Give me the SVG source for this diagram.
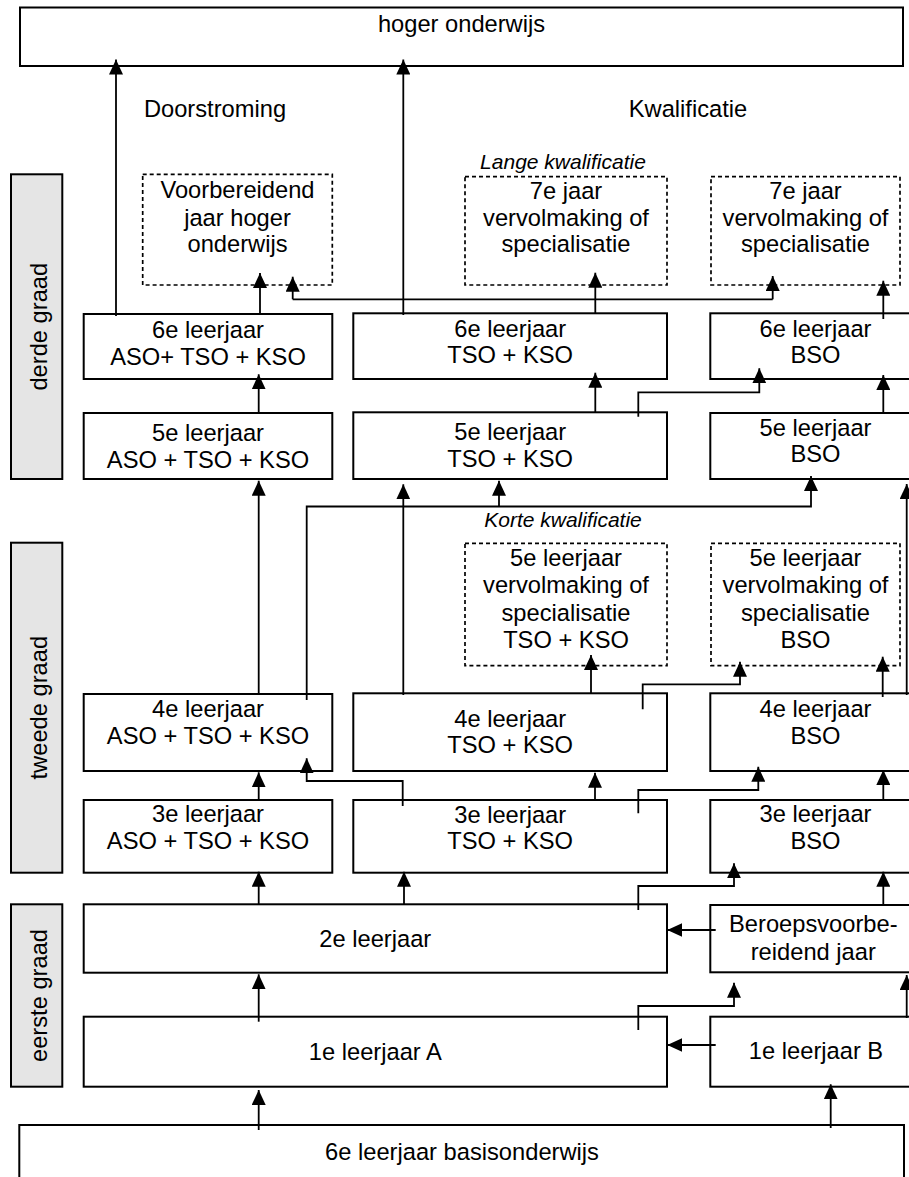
<svg xmlns="http://www.w3.org/2000/svg" width="909" height="1177" viewBox="0 0 909 1177">
<style>
text{font-family:"Liberation Sans",Arial,sans-serif;font-size:23.7px;fill:#000;text-anchor:middle}
.it{font-style:italic;font-size:21px}
.box{fill:#fff;stroke:#000;stroke-width:2}
.dash{fill:#fff;stroke:#000;stroke-width:1.7;stroke-dasharray:4 3}
.bar{fill:#e5e5e5;stroke:#000;stroke-width:2}
.c{fill:none;stroke:#000;stroke-width:1.8}
.a{marker-end:url(#ah)}
</style>
<defs>
<marker id="ah" markerUnits="userSpaceOnUse" viewBox="0 0 15 14" refX="15" refY="7" markerWidth="15" markerHeight="14" orient="auto">
<path d="M0,0 L15,7 L0,14 Z" fill="#000"/>
</marker>
</defs>
<rect width="909" height="1177" fill="#fff"/>

<g id="bars">
<g id="bar-derde"><rect class="bar" x="11" y="174.3" width="51.3" height="304.7"/><text transform="translate(46.5,326.7) rotate(-90)">derde graad</text></g>
<g id="bar-tweede"><rect class="bar" x="11" y="542.7" width="51.3" height="330"/><text transform="translate(46.5,707.7) rotate(-90)">tweede graad</text></g>
<g id="bar-eerste"><rect class="bar" x="11" y="904.3" width="51.3" height="182.4"/><text transform="translate(46.5,995.5) rotate(-90)">eerste graad</text></g>
</g>

<g id="labels">
<text x="215" y="117">Doorstroming</text>
<text x="688" y="116.7">Kwalificatie</text>
<text class="it" x="563" y="169.3">Lange kwalificatie</text>
<text class="it" x="563" y="526.7">Korte kwalificatie</text>
</g>

<g id="n-hoger"><rect class="box" x="20" y="7.5" width="883" height="58.5"/><text x="461.5" y="31.7">hoger onderwijs</text></g>

<g id="n-voorb"><rect class="dash" x="142.7" y="174.3" width="189.6" height="110.7"/><text x="237.5" y="198">Voorbereidend</text><text x="237.5" y="225.5">jaar hoger</text><text x="237.5" y="252">onderwijs</text></g>
<g id="n-7tso"><rect class="dash" x="465" y="176.7" width="202" height="108.3"/><text x="566" y="198.5">7e jaar</text><text x="566" y="225.5">vervolmaking of</text><text x="566" y="252">specialisatie</text></g>
<g id="n-7bso"><rect class="dash" x="711" y="176.7" width="189" height="108.3"/><text x="805.5" y="198.5">7e jaar</text><text x="805.5" y="225.5">vervolmaking of</text><text x="805.5" y="252">specialisatie</text></g>

<g id="n-6aso"><rect class="box" x="83.7" y="314" width="248.6" height="65"/><text x="208" y="337.7">6e leerjaar</text><text x="208" y="365">ASO+ TSO + KSO</text></g>
<g id="n-6tso"><rect class="box" x="353.3" y="313.3" width="313.7" height="65.7"/><text x="510.2" y="336.7">6e leerjaar</text><text x="510.2" y="363.3">TSO + KSO</text></g>
<g id="n-6bso"><rect class="box" x="710.3" y="313.3" width="220" height="65.7"/><text x="815.5" y="336.7">6e leerjaar</text><text x="815.5" y="363.3">BSO</text></g>

<g id="n-5aso"><rect class="box" x="83.7" y="413" width="248.6" height="66"/><text x="208" y="441">5e leerjaar</text><text x="208" y="467.7">ASO + TSO + KSO</text></g>
<g id="n-5tso"><rect class="box" x="353.3" y="412.3" width="313.7" height="66.7"/><text x="510.2" y="440">5e leerjaar</text><text x="510.2" y="466.7">TSO + KSO</text></g>
<g id="n-5bso"><rect class="box" x="710.3" y="413" width="220" height="66"/><text x="815.5" y="435.7">5e leerjaar</text><text x="815.5" y="461.7">BSO</text></g>

<g id="n-5vtso"><rect class="dash" x="465" y="543.3" width="202" height="122.4"/><text x="566" y="566">5e leerjaar</text><text x="566" y="593.3">vervolmaking of</text><text x="566" y="620.7">specialisatie</text><text x="566" y="648.3">TSO + KSO</text></g>
<g id="n-5vbso"><rect class="dash" x="711" y="543.3" width="189" height="122.4"/><text x="805.5" y="566">5e leerjaar</text><text x="805.5" y="593.3">vervolmaking of</text><text x="805.5" y="620.7">specialisatie</text><text x="805.5" y="648.3">BSO</text></g>

<g id="n-4aso"><rect class="box" x="83.7" y="694" width="248.6" height="77"/><text x="208" y="716.7">4e leerjaar</text><text x="208" y="744">ASO + TSO + KSO</text></g>
<g id="n-4tso"><rect class="box" x="353.3" y="693.3" width="313.7" height="77.7"/><text x="510.2" y="726.7">4e leerjaar</text><text x="510.2" y="753.3">TSO + KSO</text></g>
<g id="n-4bso"><rect class="box" x="710.3" y="693.3" width="220" height="77.7"/><text x="815.5" y="716.7">4e leerjaar</text><text x="815.5" y="744">BSO</text></g>

<g id="n-3aso"><rect class="box" x="83.7" y="800" width="248.6" height="72.7"/><text x="208" y="822.3">3e leerjaar</text><text x="208" y="849.3">ASO + TSO + KSO</text></g>
<g id="n-3tso"><rect class="box" x="353.3" y="800" width="313.7" height="72.7"/><text x="510.2" y="823">3e leerjaar</text><text x="510.2" y="849.3">TSO + KSO</text></g>
<g id="n-3bso"><rect class="box" x="710.3" y="800" width="220" height="72.7"/><text x="815.5" y="822.3">3e leerjaar</text><text x="815.5" y="849">BSO</text></g>

<g id="n-2"><rect class="box" x="83.7" y="904.3" width="583.3" height="68.4"/><text x="375.3" y="947.3">2e leerjaar</text></g>
<g id="n-beroeps"><rect class="box" x="710.3" y="905" width="220" height="67.3"/><text x="813.3" y="931.7">Beroepsvoorbe-</text><text x="813.3" y="960">reidend jaar</text></g>

<g id="n-1a"><rect class="box" x="83.7" y="1016.7" width="583.3" height="70"/><text x="375.3" y="1060">1e leerjaar A</text></g>
<g id="n-1b"><rect class="box" x="710.3" y="1016.7" width="220" height="70"/><text x="816" y="1059">1e leerjaar B</text></g>

<g id="n-basis"><rect class="box" x="19.3" y="1125" width="884.7" height="80"/><text x="462" y="1160">6e leerjaar basisonderwijs</text></g>

<g id="connectors">
<path class="c a" d="M116,316 V59.5"/>
<path class="c a" d="M403.3,315 V59.5"/>
<path class="c a" d="M260,314 V273"/>
<path class="c a" d="M595.3,313.3 V272.7"/>
<path class="c" d="M292.7,299.3 H772.7"/>
<path class="c a" d="M292.7,299.3 V276.7"/>
<path class="c a" d="M772.7,299.3 V276"/>
<path class="c a" d="M883.3,319 V280.7"/>

<path class="c a" d="M258.7,413 V374.3"/>
<path class="c a" d="M595.3,412.3 V372.7"/>
<path class="c a" d="M638.3,416.7 V392.3 H759.3 V368.3"/>
<path class="c a" d="M883.3,413 V375"/>

<path class="c a" d="M258.7,694 V480.7"/>
<path class="c a" d="M306.7,700 V506.5 H811 V476"/>
<path class="c a" d="M499,506.5 V480.7"/>
<path class="c a" d="M403.3,695 V484.3"/>
<path class="c a" d="M906.7,695 V484"/>

<path class="c a" d="M591,693.3 V655"/>
<path class="c a" d="M642.7,709.3 V684.3 H740 V661.7"/>
<path class="c a" d="M882.7,697 V656.7"/>

<path class="c a" d="M258.7,800 V772.3"/>
<path class="c a" d="M402.7,806 V781 H306.7 V758.3"/>
<path class="c a" d="M595,800 V772.7"/>
<path class="c a" d="M638.3,813.3 V790 H758.3 V766.7"/>
<path class="c a" d="M883.3,800 V770"/>

<path class="c a" d="M258.7,904.3 V871.7"/>
<path class="c a" d="M404,904.3 V871.7"/>
<path class="c a" d="M638.3,910 V886 H734 V863.3"/>
<path class="c a" d="M883.3,905 V871.7"/>
<path class="c a" d="M715.7,930 H667.3"/>

<path class="c a" d="M258.7,1021.7 V974.3"/>
<path class="c a" d="M638.3,1030 V1006 H734 V982.7"/>
<path class="c a" d="M906.7,1018 V975"/>
<path class="c a" d="M715.7,1045 H667.3"/>

<path class="c a" d="M258.7,1130 V1090"/>
<path class="c a" d="M830.7,1128 V1084.3"/>
</g>
</svg>
